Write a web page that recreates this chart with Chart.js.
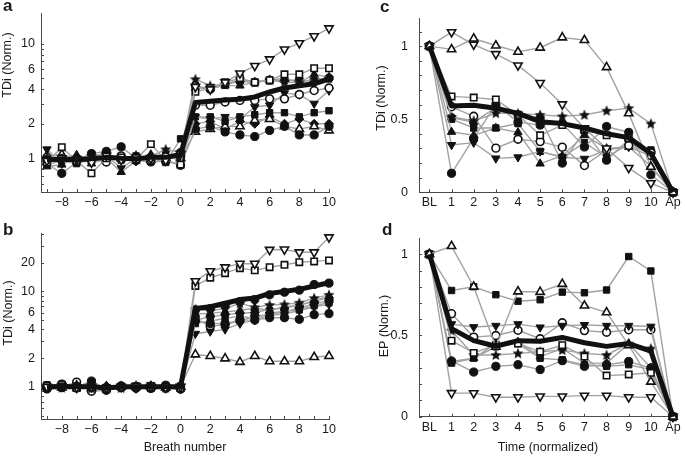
<!DOCTYPE html>
<html>
<head>
<meta charset="utf-8">
<script src="https://cdn.jsdelivr.net/npm/chart.js@4.4.1/dist/chart.umd.min.js"></script>
<style>
  body { margin: 0; background: #fff; }
  #fig { position: relative; width: 685px; height: 456px; overflow: hidden; }
  canvas { position: absolute; }
</style>
</head>
<body>
<div id="fig">
  <canvas id="pa" width="342" height="220" style="left:0;top:0"></canvas>
  <canvas id="pb" width="342" height="236" style="left:0;top:220px"></canvas>
  <canvas id="pc" width="343" height="220" style="left:342px;top:0"></canvas>
  <canvas id="pd" width="343" height="236" style="left:342px;top:220px"></canvas>
</div>
<script>
// x values
const breaths = [-9, -8, -7, -6, -5, -4, -3, -2, -1, 0, 1, 2, 3, 4, 5, 6, 7, 8, 9, 10]
const timeIdx = [0, 1, 2, 3, 4, 5, 6, 7, 8, 9, 10, 11]
const timeLabels = ['BL', '1', '2', '3', '4', '5', '6', '7', '8', '9', '10', 'Ap']

// tick labels
const logLabelsA = [1, 2, 4, 6, 10]
const logLabelsB = [1, 2, 4, 6, 10, 20]
const logMinor = [0.5, 0.6, 0.7, 0.8, 0.9, 1, 2, 3, 4, 5, 6, 7, 8, 9, 10, 20, 30, 40]
const linTicks = [0, 0.1, 0.2, 0.3, 0.4, 0.5, 0.6, 0.7, 0.8, 0.9, 1, 1.1]
const linLabels = [0, 0.5, 1]

// panel a : TDi, breath -9..10
const aMean = [0.97, 0.98, 0.97, 0.99, 1.02, 1.0, 0.99, 1.02, 1.02, 1.08, 3.07, 3.15, 3.22, 3.28, 3.43, 3.79, 4.1, 4.3, 4.46, 4.92]
const aOpenDown = [0.95, 1.0, 0.98, 0.92, 1.05, 0.97, 1.02, 1.0, 0.96, 1.1, 4.2, 4.0, 4.6, 5.5, 6.4, 7.3, 8.9, 10.1, 11.6, 13.6]
const aOpenSquare = [0.92, 1.25, 0.95, 0.74, 1.0, 1.02, 0.98, 1.33, 0.96, 0.88, 3.8, 4.1, 4.6, 5.0, 4.6, 4.8, 5.4, 5.4, 6.1, 6.1]
const aStar = [1.0, 0.95, 1.02, 1.05, 1.1, 0.98, 1.0, 1.04, 1.2, 1.12, 4.9, 4.3, 4.4, 4.9, 4.6, 4.8, 4.6, 4.6, 4.9, 5.0]
const aTri = [0.85, 0.88, 1.07, 0.9, 1.0, 0.76, 0.95, 1.08, 0.97, 1.05, 4.1, 4.1, 4.3, 4.3, 4.6, 4.8, 5.0, 4.6, 5.4, 5.1]
const aDotHigh = [0.98, 1.0, 0.95, 1.1, 1.15, 1.26, 1.0, 1.02, 0.95, 1.12, 4.3, 4.0, 4.4, 4.7, 4.6, 4.8, 4.8, 4.8, 4.7, 5.0]
const aOpenDot = [1.02, 0.97, 1.0, 0.98, 0.93, 1.05, 0.98, 0.97, 1.03, 1.05, 2.9, 2.9, 3.1, 3.2, 3.2, 3.3, 3.3, 3.6, 3.9, 4.1]
const aDown = [1.2, 0.9, 0.98, 1.0, 1.05, 0.82, 1.0, 0.95, 1.1, 0.93, 2.3, 2.2, 2.3, 2.2, 2.8, 2.9, 3.7, 3.6, 3.0, 3.9]
const aSquare = [0.88, 0.95, 0.9, 1.08, 1.02, 0.97, 1.05, 1.0, 0.92, 1.48, 2.3, 2.3, 2.1, 2.3, 2.4, 2.5, 2.5, 2.3, 2.5, 2.6]
const aDotLow = [0.9, 0.74, 0.92, 0.95, 1.0, 1.0, 0.96, 0.93, 0.95, 0.87, 1.8, 1.9, 1.7, 1.6, 1.55, 1.75, 1.9, 1.6, 1.6, 1.9]
const aOpenTri = [1.05, 1.08, 1.0, 1.03, 0.97, 1.0, 1.04, 0.98, 1.0, 1.0, 1.7, 1.8, 1.9, 1.9, 2.15, 2.2, 1.9, 1.8, 1.9, 1.75]
const aDiamond = [0.95, 1.02, 0.93, 1.0, 0.98, 1.02, 0.94, 1.05, 0.98, 1.03, 2.0, 2.1, 1.8, 2.1, 2.0, 2.3, 2.0, 2.2, 2.0, 2.0]

// panel b : TDi, breath -9..10
const bMean = [1.0, 1.01, 1.0, 1.0, 0.97, 1.0, 1.0, 1.0, 1.0, 1.0, 6.6, 6.9, 7.5, 8.2, 8.5, 9.5, 10.0, 10.5, 11.4, 12.3]
const bOpenDown = [1.0, 1.02, 0.98, 1.0, 0.97, 1.0, 1.02, 1.0, 0.98, 1.0, 12.8, 16.3, 17.9, 19.5, 19.5, 27.3, 27.5, 25.7, 25.7, 36.9]
const bOpenSquare = [1.02, 1.05, 0.97, 1.0, 0.95, 1.0, 1.0, 0.98, 1.0, 0.97, 11.4, 13.9, 15.5, 17.5, 16.6, 17.9, 19.0, 20.2, 20.6, 21.1]
const bDotHigh = [0.97, 1.07, 1.0, 1.15, 0.95, 1.02, 0.97, 1.0, 1.04, 1.0, 6.4, 6.6, 7.1, 7.8, 8.2, 9.2, 9.8, 10.3, 11.8, 12.2]
const bStar = [1.0, 0.98, 1.02, 0.96, 1.0, 0.97, 1.03, 1.02, 0.98, 1.03, 6.5, 6.3, 6.6, 7.5, 6.8, 7.2, 7.3, 7.6, 8.5, 9.2]
const bTri = [0.98, 1.0, 0.96, 1.05, 0.97, 1.0, 0.98, 1.03, 1.0, 1.0, 5.8, 5.9, 6.1, 6.3, 6.7, 6.3, 6.9, 7.1, 8.1, 8.8]
const bDiamond = [1.0, 1.03, 1.0, 0.98, 1.02, 0.98, 1.0, 0.97, 1.02, 0.95, 5.0, 5.4, 5.7, 5.9, 6.0, 6.5, 6.7, 7.2, 7.8, 8.6]
const bDotLow = [0.95, 0.98, 0.97, 1.0, 0.93, 1.02, 0.97, 0.96, 0.97, 0.95, 4.9, 4.6, 4.6, 5.0, 5.0, 5.3, 5.3, 5.1, 5.7, 5.85]
const bSquare = [1.05, 1.0, 1.02, 1.1, 0.96, 0.98, 1.02, 0.97, 1.0, 1.02, 4.6, 4.9, 5.2, 5.5, 5.2, 5.9, 6.2, 6.4, 7.1, 7.6]
const bDown = [0.97, 1.0, 0.98, 1.0, 1.0, 1.0, 0.96, 1.05, 1.0, 0.98, 3.6, 3.8, 4.0, 4.6, 5.0, 5.6, 5.8, 6.3, 6.9, 7.3]
const bOpenTri = [1.0, 0.98, 1.03, 0.97, 1.0, 1.0, 1.0, 1.0, 0.98, 1.0, 2.18, 2.1, 1.98, 1.82, 2.1, 1.85, 1.85, 1.85, 2.05, 2.1]
const bOpenDot = [1.0, 1.0, 1.12, 0.9, 0.92, 1.0, 0.98, 1.0, 0.97, 0.95, 5.2, 4.3, 4.5, 4.9, 5.5, 5.7, 6.1, 6.7, 7.4, 8.0]

// panel c : TDi, BL..Ap
const cMean = [1, 0.591, 0.595, 0.575, 0.54, 0.483, 0.47, 0.44, 0.40, 0.374, 0.265, 0]
const cOpenTri = [1, 0.978, 1.052, 1.004, 0.961, 0.989, 1.059, 1.041, 0.856, 0.54, 0.174, 0]
const cOpenDown = [1, 1.096, 1.011, 0.946, 0.868, 0.748, 0.602, 0.439, 0.30, 0.167, 0.063, 0]
const cStar = [1, 0.515, 0.49, 0.541, 0.54, 0.53, 0.52, 0.53, 0.558, 0.576, 0.47, 0]
const cOpenSquare = [1, 0.656, 0.648, 0.635, 0.53, 0.39, 0.46, 0.43, 0.39, 0.37, 0.25, 0]
const cOpenDot = [1, 0.585, 0.52, 0.302, 0.363, 0.347, 0.309, 0.183, 0.29, 0.32, 0.27, 0]
const cTri = [1, 0.413, 0.39, 0.44, 0.41, 0.196, 0.25, 0.39, 0.30, 0.31, 0.18, 0]
const cDown = [1, 0.324, 0.34, 0.232, 0.24, 0.28, 0.24, 0.23, 0.29, 0.31, 0.25, 0]
const cDot = [1, 0.13, 0.37, 0.60, 0.48, 0.46, 0.47, 0.31, 0.45, 0.41, 0.12, 0]
const cSquare = [1, 0.50, 0.44, 0.44, 0.47, 0.28, 0.24, 0.34, 0.24, 0.33, 0.29, 0]
const cDot2 = [1, 0.51, 0.48, 0.58, 0.53, 0.51, 0.20, 0.42, 0.22, 0.36, 0.28, 0]

// panel d : EP, BL..Ap
const dMean = [1, 0.542, 0.468, 0.434, 0.468, 0.464, 0.488, 0.455, 0.433, 0.45, 0.403, 0]
const dOpenTri = [1, 1.05, 0.80, 0.43, 0.771, 0.768, 0.817, 0.684, 0.642, 0.44, 0.215, 0]
const dSquareTop = [1, 0.777, 0.80, 0.751, 0.711, 0.72, 0.767, 0.763, 0.78, 0.986, 0.897, 0]
const dDown = [1, 0.57, 0.552, 0.56, 0.57, 0.55, 0.56, 0.565, 0.56, 0.56, 0.555, 0]
const dOpenDot = [1, 0.634, 0.49, 0.50, 0.532, 0.48, 0.578, 0.53, 0.52, 0.535, 0.535, 0]
const dOpenSquare = [1, 0.468, 0.393, 0.44, 0.45, 0.40, 0.44, 0.37, 0.253, 0.26, 0.27, 0]
const dStar = [1, 0.53, 0.38, 0.38, 0.39, 0.40, 0.41, 0.39, 0.38, 0.45, 0.42, 0]
const dDot = [1, 0.343, 0.275, 0.31, 0.32, 0.29, 0.345, 0.31, 0.32, 0.34, 0.30, 0]
const dSquare = [1, 0.33, 0.36, 0.43, 0.45, 0.36, 0.35, 0.32, 0.31, 0.32, 0.29, 0]
const dOpenDown = [1, 0.146, 0.145, 0.12, 0.12, 0.125, 0.125, 0.13, 0.13, 0.12, 0.12, 0]
const dTri = [1, 0.34, 0.36, 0.45, 0.46, 0.37, 0.42, 0.33, 0.33, 0.45, 0.30, 0]

const ink = '#111'
const lineGray = '#a2a2a2'
const axisColor = '#4a4a4a'
const textColor = '#1a1a1a'
const fontFamily = '"Liberation Sans", Arial, Helvetica, sans-serif'

Chart.defaults.font.family = fontFamily
Chart.defaults.font.size = 12.5
Chart.defaults.color = textColor

// filled star marker
const starImg = (() => {
  const c = document.createElement('canvas')
  c.width = 12
  c.height = 12
  const g = c.getContext('2d')
  g.beginPath()
  for (let i = 0; i < 10; i++) {
    const r = i % 2 ? 2.6 : 5.8
    const a = -Math.PI / 2 + i * Math.PI / 5
    g.lineTo(6 + r * Math.cos(a), 6.4 + r * Math.sin(a))
  }
  g.closePath()
  g.fillStyle = ink
  g.fill()
  return c
})()

const MK = {
  openDown: { style: 'triangle', rot: 180, open: true, r: 4.8 },
  openTri: { style: 'triangle', open: true, r: 4.8 },
  openSquare: { style: 'rect', open: true, r: 4.5 },
  openDot: { style: 'circle', open: true, r: 3.9 },
  tri: { style: 'triangle', r: 4.8 },
  down: { style: 'triangle', rot: 180, r: 4.8 },
  square: { style: 'rect', r: 4.5 },
  dot: { style: 'circle', r: 4.1 },
  diamond: { style: 'rectRot', r: 4.5 },
  star: { style: starImg, r: 5 }
}

const series = (data, mk) => ({
  data: data,
  borderColor: lineGray,
  borderWidth: 1.4,
  tension: 0,
  pointStyle: mk.style,
  pointRotation: mk.rot || 0,
  pointRadius: mk.r,
  pointBackgroundColor: mk.open ? '#fff' : ink,
  pointBorderColor: ink,
  pointBorderWidth: mk.open ? 1.6 : 1
})

const meanLine = (data) => ({
  data: data,
  borderColor: ink,
  borderWidth: 5,
  borderJoinStyle: 'round',
  pointRadius: 0,
  tension: 0
})

// short ticks drawn inside the axes
const inwardTicks = {
  id: 'inwardTicks',
  beforeDatasetsDraw(chart) {
    const ctx = chart.ctx
    const area = chart.chartArea
    ctx.save()
    ctx.strokeStyle = axisColor
    ctx.lineWidth = 1
    ctx.beginPath()
    chart.scales.x.ticks.forEach(t => {
      const px = Math.round(chart.scales.x.getPixelForValue(t.value)) + 0.5
      ctx.moveTo(px, area.bottom)
      ctx.lineTo(px, area.bottom - 3)
    })
    chart.scales.y.ticks.forEach(t => {
      const py = Math.round(chart.scales.y.getPixelForValue(t.value)) + 0.5
      ctx.moveTo(area.left, py)
      ctx.lineTo(area.left + 3, py)
    })
    ctx.stroke()
    ctx.restore()
  }
}

// panel letter and y title
const panelText = {
  id: 'panelText',
  afterDraw(chart, args, opts) {
    const ctx = chart.ctx
    ctx.save()
    ctx.fillStyle = textColor
    ctx.font = 'bold 17px ' + fontFamily
    ctx.textBaseline = 'alphabetic'
    ctx.textAlign = 'left'
    ctx.fillText(opts.letter, opts.lx, opts.ly)
    ctx.font = '12.5px ' + fontFamily
    ctx.translate(opts.tx, opts.ty)
    ctx.rotate(-Math.PI / 2)
    ctx.textAlign = 'center'
    ctx.textBaseline = 'middle'
    ctx.fillText(opts.title, 0, 0)
    ctx.restore()
  }
}

const minusFmt = (v) => v < 0 ? '\u2212' + Math.abs(v) : String(v)

const breathAxis = (title) => ({
  type: 'linear',
  min: -9.4,
  max: 10,
  afterBuildTicks: (s) => { s.ticks = breaths.map(v => ({ value: v })) },
  ticks: { autoSkip: false, maxRotation: 0, padding: 3, callback: (v) => v % 2 === 0 ? minusFmt(v) : '' },
  grid: { display: false, drawTicks: false },
  border: { color: axisColor },
  title: { display: !!title, text: title || '', padding: { top: 0, bottom: 0.5 } }
})

const timeAxis = (title) => ({
  type: 'linear',
  min: -0.47,
  max: 11.18,
  afterBuildTicks: (s) => { s.ticks = timeIdx.map(v => ({ value: v })) },
  ticks: { autoSkip: false, maxRotation: 0, padding: 3, callback: (v) => timeLabels[v] },
  grid: { display: false, drawTicks: false },
  border: { color: axisColor },
  title: { display: !!title, text: title || '', padding: { top: 0, bottom: 0.5 } }
})

const logAxis = (min, max, labels) => ({
  type: 'logarithmic',
  min: min,
  max: max,
  afterBuildTicks: (s) => { s.ticks = logMinor.filter(v => v >= min && v <= max).map(v => ({ value: v })) },
  ticks: { autoSkip: false, padding: 6, callback: (v) => labels.includes(v) ? String(v) : '' },
  grid: { display: false, drawTicks: false },
  border: { color: axisColor }
})

const linAxis = (max) => ({
  type: 'linear',
  min: 0,
  max: max,
  afterBuildTicks: (s) => { s.ticks = linTicks.filter(v => v <= max).map(v => ({ value: v })) },
  ticks: { autoSkip: false, padding: 11, callback: (v) => linLabels.includes(v) ? String(v) : '' },
  grid: { display: false, drawTicks: false },
  border: { color: axisColor }
})

// box = canvas rect on page, area = wanted plot area on page
const makePanel = (id, box, area, labels, xAxis, yAxis, datasets, text) => {
  const xScale = Object.assign({}, xAxis, { afterFit: (s) => { s.height = box.top + box.h - area.bottom } })
  const yScale = Object.assign({}, yAxis, { afterFit: (s) => { s.width = area.left - box.left } })
  return new Chart(document.getElementById(id), {
    type: 'line',
    data: { labels: labels, datasets: datasets },
    options: {
      responsive: false,
      animation: false,
      events: [],
      datasets: { line: { clip: false } },
      layout: { padding: { left: 0, top: area.top - box.top, right: box.left + box.w - area.right, bottom: 0 } },
      plugins: { legend: { display: false }, tooltip: { enabled: false }, panelText: text },
      scales: { x: xScale, y: yScale }
    },
    plugins: [inwardTicks, panelText]
  })
}

makePanel('pa', { left: 0, top: 0, w: 342, h: 220 }, { left: 41, right: 329, top: 10, bottom: 192 },
  breaths, breathAxis(), logAxis(0.509, 18.3, logLabelsA),
  [meanLine(aMean),
    series(aOpenDown, MK.openDown), series(aOpenSquare, MK.openSquare), series(aStar, MK.star),
    series(aTri, MK.tri), series(aDotHigh, MK.dot), series(aOpenDot, MK.openDot),
    series(aDown, MK.down), series(aSquare, MK.square), series(aDotLow, MK.dot),
    series(aOpenTri, MK.openTri), series(aDiamond, MK.diamond)],
  { letter: 'a', lx: 3, ly: 11, title: 'TDi (Norm.)', tx: 8, ty: 65 })

makePanel('pb', { left: 0, top: 220, w: 342, h: 236 }, { left: 41, right: 329, top: 233, bottom: 419 },
  breaths, breathAxis('Breath number'), logAxis(0.46, 40.4, logLabelsB),
  [meanLine(bMean),
    series(bOpenDown, MK.openDown), series(bOpenSquare, MK.openSquare), series(bDotHigh, MK.dot),
    series(bStar, MK.star), series(bTri, MK.tri), series(bDiamond, MK.diamond),
    series(bDotLow, MK.dot), series(bSquare, MK.square), series(bDown, MK.down),
    series(bOpenTri, MK.openTri), series(bOpenDot, MK.openDot)],
  { letter: 'b', lx: 3, ly: 15, title: 'TDi (Norm.)', tx: 9, ty: 93 })

makePanel('pc', { left: 342, top: 0, w: 343, h: 220 }, { left: 419, right: 677, top: 10, bottom: 192.3 },
  timeIdx, timeAxis(), linAxis(1.189),
  [meanLine(cMean),
    series(cOpenTri, MK.openTri), series(cOpenDown, MK.openDown), series(cStar, MK.star),
    series(cOpenSquare, MK.openSquare), series(cOpenDot, MK.openDot), series(cTri, MK.tri),
    series(cDown, MK.down), series(cDot, MK.dot), series(cSquare, MK.square), series(cDot2, MK.dot)],
  { letter: 'c', lx: 38, ly: 12, title: 'TDi (Norm.)', tx: 40, ty: 98 })

makePanel('pd', { left: 342, top: 220, w: 343, h: 236 }, { left: 419, right: 677, top: 233, bottom: 416.7 },
  timeIdx, timeAxis('Time (normalized)'), linAxis(1.097),
  [meanLine(dMean),
    series(dOpenTri, MK.openTri), series(dSquareTop, MK.square), series(dDown, MK.down),
    series(dOpenDot, MK.openDot), series(dOpenSquare, MK.openSquare), series(dStar, MK.star),
    series(dDot, MK.dot), series(dSquare, MK.square), series(dOpenDown, MK.openDown), series(dTri, MK.tri)],
  { letter: 'd', lx: 40, ly: 15, title: 'EP (Norm.)', tx: 43, ty: 106 })
</script>
</body>
</html>
